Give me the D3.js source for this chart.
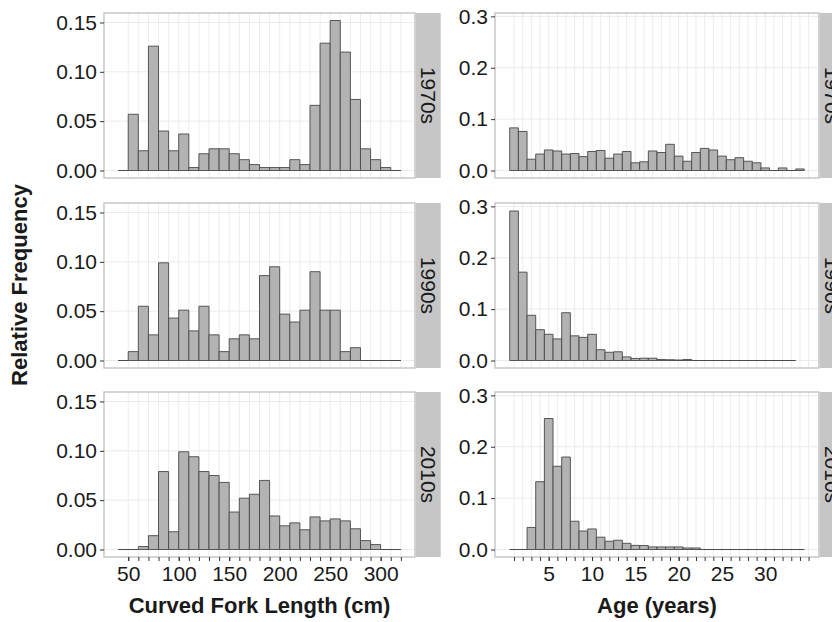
<!DOCTYPE html>
<html lang="en">
<head>
<meta charset="utf-8">
<title>Length and age frequency by decade</title>
<style>
  body { margin: 0; background: #fff; }
  svg text { font-family: "Liberation Sans", Arial, sans-serif; fill: #1a1a1a; }
</style>
</head>
<body>
<div id="plot"></div>
<script src="https://d3js.org/d3.v7.min.js"></script>
<script>
// ---- data (relative frequencies) ----
var decades = ["1970s", "1990s", "2010s"];

// curved fork length, bins of 10 cm from 40 to 320
var lengthBinStart = 40, lengthBinWidth = 10;
var length1970s = [0, 0.057, 0.020, 0.126, 0.040, 0.020, 0.037, 0.003, 0.017, 0.022,
                   0.022, 0.017, 0.011, 0.006, 0.003, 0.003, 0.003, 0.011, 0.006, 0.066,
                   0.129, 0.152, 0.120, 0.072, 0.022, 0.011, 0.003, 0];
var length1990s = [0, 0.009, 0.055, 0.026, 0.099, 0.043, 0.051, 0.030, 0.055, 0.026,
                   0.009, 0.022, 0.026, 0.022, 0.086, 0.095, 0.047, 0.039, 0.051, 0.090,
                   0.051, 0.051, 0.009, 0.013, 0, 0, 0, 0];
var length2010s = [0, 0, 0.003, 0.014, 0.079, 0.018, 0.099, 0.094, 0.079, 0.075,
                   0.068, 0.038, 0.052, 0.056, 0.070, 0.034, 0.024, 0.027, 0.020, 0.033,
                   0.029, 0.031, 0.029, 0.021, 0.009, 0.005, 0, 0];

// age, one-year bins starting at age 1
var ageBinStart = 0.5, ageBinWidth = 1;
var age1970s = [0.083, 0.076, 0.022, 0.032, 0.040, 0.038, 0.032, 0.033, 0.027, 0.037,
                0.039, 0.024, 0.032, 0.037, 0.015, 0.017, 0.038, 0.035, 0.051, 0.028,
                0.018, 0.035, 0.043, 0.040, 0.028, 0.021, 0.025, 0.018, 0.015, 0.005,
                0, 0.005, 0, 0.003];
var age1990s = [0.291, 0.172, 0.088, 0.060, 0.051, 0.042, 0.093, 0.048, 0.045, 0.051,
                0.021, 0.016, 0.017, 0.007, 0.004, 0.0045, 0.0045, 0.002, 0.0015, 0.001,
                0.002, 0, 0, 0, 0, 0, 0, 0, 0, 0,
                0, 0, 0];
var age2010s = [0, 0, 0.043, 0.132, 0.255, 0.162, 0.180, 0.055, 0.036, 0.040,
                0.024, 0.016, 0.018, 0.012, 0.008, 0.0078, 0.005, 0.005, 0.005, 0.005,
                0.003, 0.003, 0, 0, 0, 0, 0, 0, 0, 0,
                0, 0, 0, 0];

var lengthTicks = [50, 100, 150, 200, 250, 300];
var lengthMinorTicks = d3.range(50, 330, 10);
var ageTicks = [5, 10, 15, 20, 25, 30];
var ageMinorTicks = d3.range(1, 36, 1);
var lengthYTicks = [0, 0.05, 0.10, 0.15];
var ageYTicks = [0, 0.1, 0.2, 0.3];

// ---- layout ----
var width = 832, height = 622;
var rowTops = [13, 203, 392], panelH = 165, stripW = 25;

var svg = d3.select("#plot").append("svg")
    .attr("width", width).attr("height", height);
svg.append("rect").attr("width", width).attr("height", height).attr("fill", "#fff");

var columns = [
  { series: [length1970s, length1990s, length2010s], start: lengthBinStart, bw: lengthBinWidth,
    x: d3.scaleLinear().domain([26, 334]).range([104, 415]),
    y: d3.scaleLinear().domain([-0.0076, 0.1596]).range([panelH, 0]),
    xTicks: lengthTicks, xMinor: lengthMinorTicks, yTicks: lengthYTicks,
    yFmt: d3.format(".2f"), title: "Curved Fork Length (cm)" },
  { series: [age1970s, age1990s, age2010s], start: ageBinStart, bw: ageBinWidth,
    x: d3.scaleLinear().domain([-1.2, 36.2]).range([495, 819]),
    y: d3.scaleLinear().domain([-0.0146, 0.3066]).range([panelH, 0]),
    xTicks: ageTicks, xMinor: ageMinorTicks, yTicks: ageYTicks,
    yFmt: d3.format(".1f"), title: "Age (years)" }
];

columns.forEach(function (col) {
  var x0 = col.x.range()[0], x1 = col.x.range()[1];
  col.series.forEach(function (vals, r) {
    var g = svg.append("g").attr("transform", "translate(0," + rowTops[r] + ")");

    // grid
    g.selectAll(".vgrid").data(col.xMinor).join("line")
      .attr("x1", d => col.x(d)).attr("x2", d => col.x(d))
      .attr("y1", 0).attr("y2", panelH)
      .attr("stroke", "#ececec").attr("stroke-width", 1);
    g.selectAll(".hgrid").data(col.yTicks).join("line")
      .attr("x1", x0).attr("x2", x1)
      .attr("y1", d => col.y(d)).attr("y2", d => col.y(d))
      .attr("stroke", "#ebebeb").attr("stroke-width", 1);

    // bars (paths so zero-height bins still draw their outline)
    g.selectAll(".bar").data(vals).join("path")
      .attr("d", function (v, i) {
        var a = col.x(col.start + i * col.bw), b = col.x(col.start + (i + 1) * col.bw);
        var y0 = col.y(0), y1 = col.y(v);
        return "M" + a + "," + y0 + "V" + y1 + "H" + b + "V" + y0 + "Z";
      })
      .attr("fill", "#b3b3b3").attr("stroke", "#474747").attr("stroke-width", 0.9);

    // panel border
    g.append("rect").attr("x", x0).attr("y", 0)
      .attr("width", x1 - x0).attr("height", panelH)
      .attr("fill", "none").attr("stroke", "#c4c4c4").attr("stroke-width", 1.4);

    // strip
    g.append("rect").attr("x", x1 + 0.7).attr("y", 0)
      .attr("width", stripW).attr("height", panelH).attr("fill", "#c6c6c6");
    g.append("text")
      .attr("transform", "translate(" + (x1 + 0.7 + stripW / 2) + "," + panelH / 2 + ") rotate(90)")
      .attr("text-anchor", "middle").attr("dy", "0.35em")
      .attr("font-size", 21).text(decades[r]);

    // y axis
    var ya = g.append("g").attr("transform", "translate(" + x0 + ",0)")
      .call(d3.axisLeft(col.y).tickValues(col.yTicks).tickFormat(col.yFmt)
        .tickSize(4).tickPadding(3));
    ya.select(".domain").remove();
    ya.selectAll("line").attr("stroke", "#333");
    ya.selectAll("text").attr("font-size", 21).attr("fill", "#1a1a1a");

    // x axis only on the bottom row
    if (r === 2) {
      var xm = g.append("g").attr("transform", "translate(0," + panelH + ")")
        .call(d3.axisBottom(col.x).tickValues(col.xMinor).tickFormat("").tickSize(4));
      xm.select(".domain").remove();
      xm.selectAll("line").attr("stroke", "#333");
      var xa = g.append("g").attr("transform", "translate(0," + panelH + ")")
        .call(d3.axisBottom(col.x).tickValues(col.xTicks).tickFormat(d3.format("d"))
          .tickSize(4).tickPadding(5));
      xa.select(".domain").remove();
      xa.selectAll("line").attr("stroke", "#333");
      xa.selectAll("text").attr("font-size", 21).attr("fill", "#1a1a1a");

      svg.append("text")
        .attr("x", (x0 + x1) / 2).attr("y", 605).attr("dy", "0.35em")
        .attr("text-anchor", "middle").attr("font-size", 22).attr("font-weight", "bold")
        .text(col.title);
    }
  });
});

svg.append("text")
  .attr("transform", "translate(19," + (rowTops[0] + rowTops[2] + panelH) / 2 + ") rotate(-90)")
  .attr("text-anchor", "middle").attr("dy", "0.35em")
  .attr("font-size", 22).attr("font-weight", "bold")
  .text("Relative Frequency");
</script>
</body>
</html>
